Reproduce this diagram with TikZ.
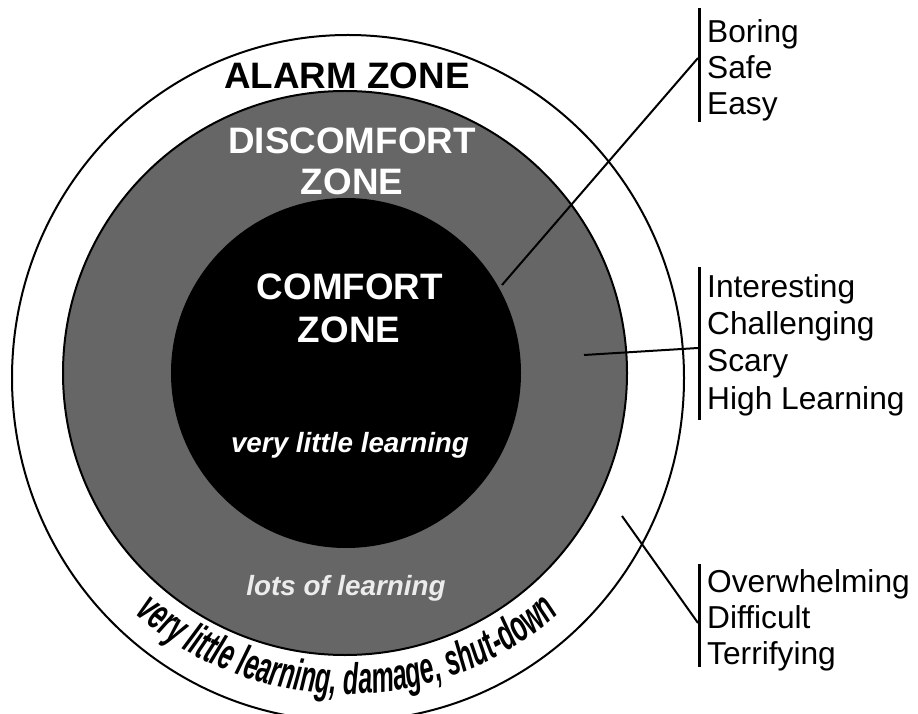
\documentclass[tikz,border=0pt]{standalone}
\usepackage{fontspec}
\setmainfont{Liberation Sans}
\newfontfamily\curvefont{Liberation Sans}[FakeStretch=0.57]
\usetikzlibrary{decorations.text}
\definecolor{zonegray}{RGB}{102,102,102}
\definecolor{lightlabel}{RGB}{236,236,236}
\begin{document}
\begin{tikzpicture}[x=1pt,y=1pt,
  zonetitle/.style={font=\fontsize{36.8}{40}\selectfont\bfseries, anchor=base, inner sep=0pt},
  learn/.style={font=\fontsize{27.8}{30}\selectfont\bfseries\itshape, anchor=base, inner sep=0pt},
  listitem/.style={font=\fontsize{31.7}{36}\selectfont, anchor=base west, inner sep=0pt},
  bar/.style={line width=3pt},
  leader/.style={line width=2pt},
  ring/.style={line width=2pt}]
\useasboundingbox (0,0) rectangle (918,713);
\clip (0,0) rectangle (918,713);
\fill[white] (0,0) rectangle (918,713);
% zones
\draw[ring] (348,335) ellipse [x radius=336, y radius=343];
\draw[ring, fill=zonegray] (345,340) circle [radius=282];
\fill[black] (346,340) circle [radius=175];
% zone titles
\node[zonetitle, text=black] (alarm) at (347,624) {ALARM ZONE};
\node[zonetitle, text=white] (disc1) at (352,559) {DISCOMFORT};
\node[zonetitle, text=white] (disc2) at (352,518) {ZONE};
\node[zonetitle, text=white] (comf1) at (350,413) {COMFORT};
\node[zonetitle, text=white] (comf2) at (349,370) {ZONE};
\node[learn, text=white] (vll) at (350,261) {very little learning};
\node[learn, text=lightlabel] (lol) at (346,118) {lots of learning};
% curved text
\path[decorate, decoration={text along path, text align=center,
  text={|\fontsize{44}{48}\curvefont\bfseries\itshape|very little learning, damage, shut-down}}]
  (347,340) ++(228:321) arc[start angle=228, end angle=312, radius=321];
% lists
\node[listitem] (boring) at (707,670) {Boring};
\node[listitem] (safe) at (707,634) {Safe};
\node[listitem] (easy) at (707,598) {Easy};
\node[listitem] (interesting) at (707,415) {Interesting};
\node[listitem] (challenging) at (707,378) {Challenging};
\node[listitem] (scary) at (707,341) {Scary};
\node[listitem] (high) at (707,304) {High Learning};
\node[listitem] (overwhelming) at (707,121) {Overwhelming};
\node[listitem] (difficult) at (707,85) {Difficult};
\node[listitem] (terrifying) at (707,49) {Terrifying};
% bars
\coordinate (bar1top) at (699,705);
\coordinate (bar1bot) at (699,591);
\coordinate (bar2top) at (699,446);
\coordinate (bar2bot) at (699,293);
\coordinate (bar3top) at (699,149);
\coordinate (bar3bot) at (699,46);
\draw[bar] (bar1top) -- (bar1bot);
\draw[bar] (bar2top) -- (bar2bot);
\draw[bar] (bar3top) -- (bar3bot);
% leaders
\coordinate (in1) at (502,428);
\coordinate (at1) at (698,655);
\coordinate (in2) at (584,358);
\coordinate (at2) at (698,365);
\coordinate (in3) at (622,197);
\coordinate (at3) at (698,90);
\draw[leader] (in1) -- (at1);
\draw[leader] (in2) -- (at2);
\draw[leader] (in3) -- (at3);
\end{tikzpicture}
\end{document}
